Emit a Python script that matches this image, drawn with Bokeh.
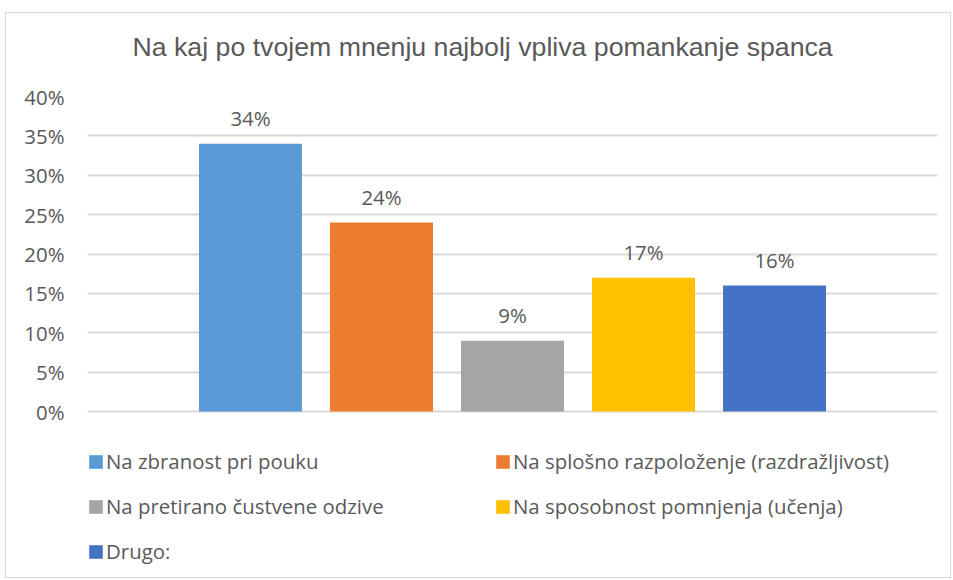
import numpy as np
from bokeh.plotting import figure
from bokeh.models import (ColumnDataSource, Range1d, FixedTicker, NumeralTickFormatter,
                          LabelSet, Legend, LegendItem, Title)
from bokeh.core.properties import value
from bokeh.embed import file_html
from bokeh.resources import INLINE

title_text = "Na kaj po tvojem mnenju najbolj vpliva pomankanje spanca"
categories = ["Na zbranost pri pouku",
              "Na splošno razpoloženje (razdražljivost)",
              "Na pretirano čustvene odzive",
              "Na sposobnost pomnjenja (učenja)",
              "Drugo:"]
values = [0.34, 0.24, 0.09, 0.17, 0.16]
colors = ["#5B9BD5", "#ED7D31", "#A5A5A5", "#FFC000", "#4472C4"]
y_max = 0.40
y_step = 0.05

TEXT = "#595959"
FONT = "Open Sans"

positions = list(range(len(categories)))
labels = [f"{round(v * 100):d}%" for v in values]
ticks = [round(v, 2) for v in np.arange(0, y_max + y_step / 2, y_step)]
src = ColumnDataSource(dict(x=positions, top=values, color=colors, cat=categories, lab=labels))

# frame: value axis occupies top 315 px; extra room below 0% holds the legend
W, H = 946, 566
frame_top, zero_px, frame_bottom = 83, 398, 556
y_min = -y_max * (frame_bottom - zero_px) / (zero_px - frame_top)

mid = (positions[0] + positions[-1]) / 2
half = 3.244
p = figure(width=W, height=H, output_backend="svg", toolbar_location=None,
           x_range=Range1d(mid - half, mid + half), y_range=Range1d(y_min, y_max),
           x_axis_location=None, min_border_left=81, min_border_right=15,
           min_border_top=frame_top, min_border_bottom=H - frame_bottom, title=None)
p.styles = {"border": "1px solid #D9D9D9", "margin-left": "5px", "margin-top": "12px"}
p.outline_line_color = None
p.background_fill_color = "white"
p.border_fill_color = "white"

spacer_top = Title(text=" ", text_font_size="10px", standoff=17)
p.add_layout(spacer_top, "above")
t = Title(text=title_text, align="left", offset=45, text_font="Liberation Sans",
          text_font_size="26.7px", text_font_style="normal", text_color=TEXT, standoff=10)
p.add_layout(t, "above")

r = p.vbar(x="x", top="top", width=0.786, color="color", source=src, line_color=None)

ax = p.yaxis[0]
ax.ticker = FixedTicker(ticks=ticks)
ax.formatter = NumeralTickFormatter(format="0%")
ax.axis_line_color = None
ax.major_tick_line_color = None
ax.minor_tick_line_color = None
ax.major_tick_out = 0
ax.major_tick_in = 0
ax.major_label_standoff = 23
ax.major_label_text_font = FONT
ax.major_label_text_font_size = "20.4px"
ax.major_label_text_color = TEXT

p.xgrid.visible = False
p.ygrid.grid_line_color = "#D9D9D9"
p.ygrid.grid_line_width = 2
p.ygrid.ticker = FixedTicker(ticks=ticks)

ls = LabelSet(x="x", y="top", text="lab", source=src, text_align="center",
              text_baseline="alphabetic", y_offset=18, text_font=value(FONT),
              text_font_size=value("20.4px"), text_color=TEXT)
p.add_layout(ls)

items = [LegendItem(label=c, renderers=[r], index=i) for i, c in enumerate(categories)]
leg = Legend(items=items, orientation="horizontal", ncols=2, location=(0, 4),
             glyph_width=17, glyph_height=17, label_standoff=2, label_width=371,
             label_height=27, spacing=17, padding=0, margin=0,
             border_line_color=None, background_fill_alpha=0,
             label_text_font=FONT, label_text_font_size="20.4px", label_text_color=TEXT)
p.add_layout(leg, "center")

open("out.html", "w").write(file_html(p, INLINE))
